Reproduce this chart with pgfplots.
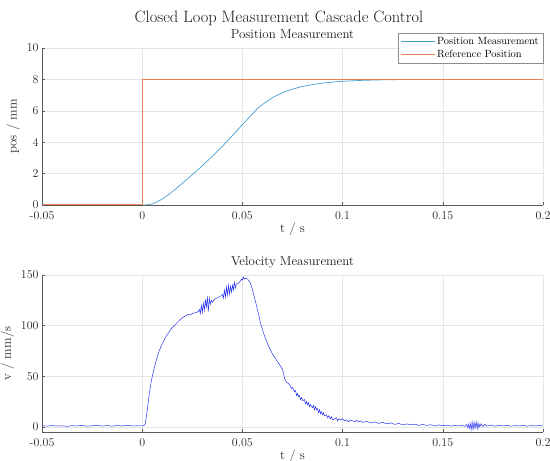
\documentclass[border=0pt]{standalone}
\usepackage{pgfplots}
\pgfplotsset{compat=1.18}

\definecolor{posblue}{RGB}{70,160,210}
\definecolor{reforange}{RGB}{235,130,90}
\definecolor{velblue}{RGB}{40,50,240}
\definecolor{axgray}{RGB}{90,90,90}

\pgfplotsset{
  mlstyle/.style={
    scale only axis,
    width=501bp, height=157bp,
    anchor=south west,
    axis x line*=bottom, axis y line*=left,
    axis line style={axgray, line width=0.5pt},
    tick align=inside,
    major tick length=3pt,
    tick style={axgray, line width=0.5pt},
    grid=major,
    grid style={black!10, line width=0.4pt},
    xmin=-0.05, xmax=0.2,
    xtick={-0.05,0,0.05,0.1,0.15,0.2},
    xticklabels={-0.05,0,0.05,0.1,0.15,0.2},
    ticklabel style={font=\fontsize{12}{14}\selectfont, text=black!85},
    xticklabel style={yshift=-3pt},
    label style={font=\fontsize{13}{15}\selectfont, text=black!85},
    title style={font=\fontsize{13}{15}\selectfont, text=black!90, at={(0.5,1)}, anchor=base, yshift=4pt},
    xlabel={t / s},
    xlabel style={yshift=4pt},
    ylabel style={yshift=0pt},
    clip=true,
  }
}

\begin{document}
\begin{tikzpicture}
% top: position
\begin{axis}[mlstyle,
  at={(42bp,256bp)},
  ymin=0, ymax=10,
  ytick={0,2,4,6,8,10},
  ylabel={pos / mm},
  title={Position Measurement},
  legend style={at={(1,1.096)}, anchor=north east, draw=black!45, fill=white,
    font=\fontsize{10.5}{12}\selectfont, inner sep=2pt, row sep=0.5pt},
  legend cell align=left,
  legend image code/.code={\draw[#1] (0cm,0cm) -- (1.2cm,0cm);},
]
\addplot[posblue, line width=0.7pt] coordinates {
  (-0.05,0) (0.002,0) (0.005,0.07) (0.0075,0.2) (0.01,0.38) (0.0125,0.6)
  (0.015,0.85) (0.0175,1.11) (0.02,1.38) (0.025,1.93) (0.03,2.5)
  (0.035,3.1) (0.04,3.74) (0.045,4.42) (0.05,5.12) (0.055,5.8)
  (0.058,6.2) (0.06,6.4) (0.0625,6.63) (0.065,6.84) (0.0675,7.0)
  (0.07,7.15) (0.0725,7.27) (0.075,7.38) (0.0775,7.47) (0.08,7.55)
  (0.085,7.67) (0.09,7.76) (0.095,7.83) (0.1,7.88) (0.105,7.91)
  (0.11,7.94) (0.12,7.97) (0.13,7.99) (0.15,8.0) (0.2,8.0)
};
\addlegendentry{Position Measurement}
\addplot[reforange, line width=1pt] coordinates {
  (-0.05,0) (0,0) (0,8) (0.2,8)
};
\addlegendentry{Reference Position}
\end{axis}

% bottom: velocity
\begin{axis}[mlstyle,
  at={(42bp,29bp)},
  ymin=-5, ymax=150,
  ytick={0,50,100,150},
  ylabel={v / mm/s},
  title={Velocity Measurement},
]
\addplot[velblue, line width=0.5pt] coordinates {
  (-0.05,1.2) (-0.0475,0.8) (-0.045,1.4) (-0.0425,0.9) (-0.04,1.1)
  (-0.0375,0.6) (-0.035,1.3) (-0.0325,1.0) (-0.03,1.5) (-0.0275,0.7)
  (-0.025,1.2) (-0.0225,1.6) (-0.02,0.9) (-0.0175,1.3) (-0.015,0.8)
  (-0.0125,1.4) (-0.01,1.0) (-0.0075,1.7) (-0.005,0.9) (-0.0025,1.2)
  (0,1.0) (0.001,1.5)
  (0.0015,3) (0.0025,16) (0.0035,32) (0.0045,45) (0.0055,54) (0.0065,62)
  (0.0075,69) (0.0085,75) (0.0095,80) (0.0105,84) (0.0115,88) (0.0125,91)
  (0.0135,94) (0.0145,97) (0.0155,99) (0.0165,101) (0.0175,103) (0.0185,105)
  (0.0195,107) (0.021,109) (0.022,110) (0.023,111) (0.024,110.5) (0.025,112)
  (0.026,112.5) (0.027,113) (0.028,114)
  (0.0285,116) (0.029,112) (0.0295,120) (0.030,113) (0.0305,122) (0.031,115)
  (0.0315,126) (0.032,117) (0.0325,129) (0.033,114) (0.0335,127) (0.034,121)
  (0.0345,125) (0.035,123) (0.036,126) (0.037,127) (0.038,128) (0.039,129)
  (0.040,131)
  (0.0405,127) (0.041,135) (0.0415,128) (0.042,138) (0.0425,130) (0.043,140)
  (0.0435,131) (0.044,139) (0.0445,133) (0.045,140) (0.0455,135) (0.046,143)
  (0.0465,137) (0.047,141) (0.048,142) (0.049,144) (0.0495,146) (0.050,145)
  (0.0505,148) (0.051,146) (0.052,147) (0.053,145) (0.054,142)
  (0.055,136) (0.056,128) (0.057,120) (0.058,112) (0.059,103) (0.060,96)
  (0.061,90) (0.062,85) (0.063,80) (0.064,76) (0.065,72) (0.066,69)
  (0.067,66) (0.068,63) (0.069,60) (0.070,57) (0.0705,53) (0.071,48)
  (0.0715,46) (0.072,44) (0.073,43) (0.074,40) (0.0745,38) (0.075,39)
  (0.076,35) (0.0765,36) (0.077,31) (0.0775,33) (0.078,30) (0.0785,31)
  (0.079,27) (0.0795,29) (0.080,26) (0.081,27) (0.0815,23) (0.082,25)
  (0.0825,22) (0.083,24) (0.0835,20) (0.084,22) (0.085,19) (0.0855,21)
  (0.086,17) (0.0865,20) (0.087,17) (0.0875,18) (0.088,14) (0.0885,17)
  (0.089,13) (0.0895,15) (0.090,12) (0.0905,14) (0.091,11) (0.092,12)
  (0.0925,9) (0.093,11) (0.094,8) (0.0945,10) (0.095,7) (0.096,8)
  (0.097,9) (0.0975,6) (0.098,8) (0.099,7) (0.100,8) (0.101,6)
  (0.102,7) (0.103,5) (0.104,7) (0.105,6) (0.106,5) (0.107,6.5)
  (0.108,5) (0.109,6) (0.110,4.5) (0.112,5.5) (0.114,4) (0.116,5)
  (0.118,3.5) (0.120,4.5) (0.122,3) (0.124,4) (0.126,2.5) (0.128,3.5)
  (0.130,2) (0.132,3) (0.134,2) (0.136,2.8) (0.138,1.5) (0.140,2.5)
  (0.142,1.5) (0.144,2.2) (0.146,1) (0.148,2) (0.150,1.2) (0.152,1.8)
  (0.154,0.8) (0.156,1.5) (0.158,1) (0.160,1.6) (0.161,0.5) (0.162,2.5)
  (0.1625,-1) (0.163,3) (0.1635,-2) (0.164,4) (0.1645,-3) (0.165,5)
  (0.1655,-2) (0.166,4.5) (0.1665,-1) (0.167,5) (0.1675,-2) (0.168,3.5)
  (0.1685,0) (0.169,3) (0.170,0.5) (0.171,2.5) (0.172,0.8) (0.174,1.8)
  (0.176,0.8) (0.178,1.5) (0.180,1) (0.182,1.6) (0.184,0.7) (0.186,1.4)
  (0.188,0.9) (0.190,1.5) (0.192,0.8) (0.194,1.3) (0.196,0.9) (0.198,1.4)
  (0.200,1.0)
};
\end{axis}

\node[font=\fontsize{16.5}{19}\selectfont, text=black!90] at (279bp,443bp) {Closed Loop Measurement Cascade Control};

\pgfresetboundingbox
\path (0,0) rectangle (550bp,461bp);
\end{tikzpicture}
\end{document}
